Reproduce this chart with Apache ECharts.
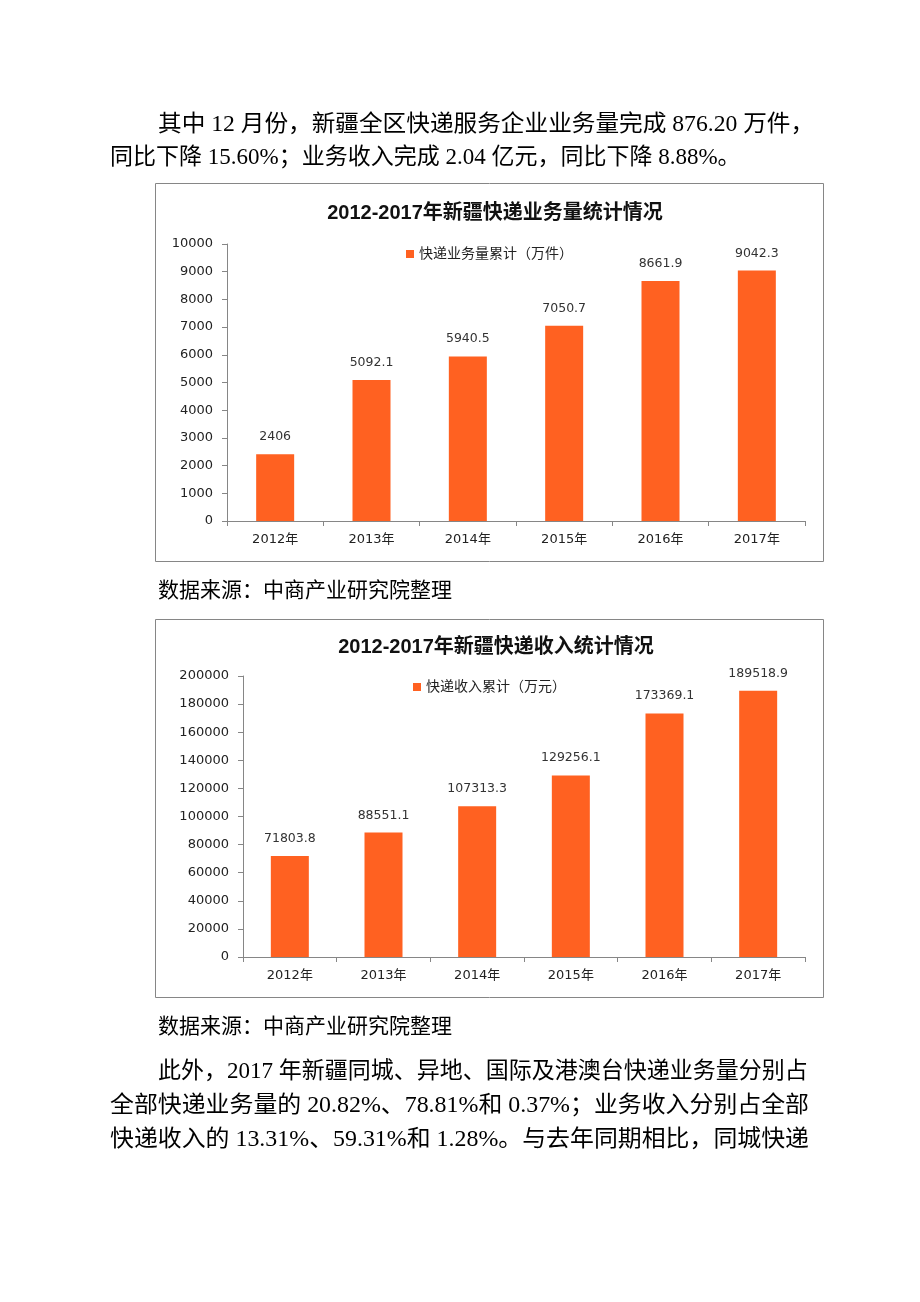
<!DOCTYPE html>
<html><head><meta charset="utf-8">
<script src="https://cdn.jsdelivr.net/npm/echarts@6/dist/echarts.min.js"></script>
<style>html,body{margin:0;padding:0;background:#fff}#c{width:920px;height:1302px}</style>
</head><body><div id="c"></div>
<script>
const years = ['2012年','2013年','2014年','2015年','2016年','2017年'];
const volume = [2406, 5092.1, 5940.5, 7050.7, 8661.9, 9042.3];
const revenue = [71803.8, 88551.1, 107313.3, 129256.1, 173369.1, 189518.9];
const title1 = '2012-2017年新疆快递业务量统计情况';
const title2 = '2012-2017年新疆快递收入统计情况';
const legend1 = '快递业务量累计（万件）';
const legend2 = '快递收入累计（万元）';
const para1 = ['其中 12 月份，新疆全区快递服务企业业务量完成 876.20 万件，','同比下降 15.60%；业务收入完成 2.04 亿元，同比下降 8.88%。'];
const source = '数据来源：中商产业研究院整理';
const para2 = ['此外，2017 年新疆同城、异地、国际及港澳台快递业务量分别占','全部快递业务量的 20.82%、78.81%和 0.37%；业务收入分别占全部','快递收入的 13.31%、59.31%和 1.28%。与去年同期相比，同城快递'];

const bodyFont = '"Liberation Serif","Noto Sans CJK SC",serif';
const chartFont = '"DejaVu Sans","Noto Sans CJK SC",sans-serif';
const titleFont = '"Liberation Sans","Noto Sans CJK SC",sans-serif';
const ORANGE = '#FF6121';
const AX = '#868686';

function txt(x,y,s,size,sx){
  return {type:'text',x:x,y:y,scaleX:sx||1,style:{text:s,font:'normal '+size+'px '+bodyFont,fill:'#000',textVerticalAlign:'middle',textAlign:'left'}};
}
const g = [];
g.push(txt(158,125,para1[0],23,1.028));
g.push(txt(110,158,para1[1],23));
g.push(txt(158,591,source,21));
g.push(txt(158,1027,source,21));
g.push(txt(158,1072,para2[0],23));
g.push(txt(110,1106,para2[1],23,1.039));
g.push(txt(110,1140,para2[2],23,1.039));
g.push({type:'rect',shape:{x:155.5,y:183.5,width:668,height:378},style:{fill:'none',stroke:AX,lineWidth:1},z:-1});
g.push({type:'rect',shape:{x:155.5,y:619.5,width:668,height:378},style:{fill:'none',stroke:AX,lineWidth:1},z:-1});

function yAxis(gi,max,interval){
  return {type:'value',gridIndex:gi,min:0,max:max,interval:interval,
    axisLine:{show:true,lineStyle:{color:AX}},axisTick:{show:true,length:5,lineStyle:{color:AX}},
    splitLine:{show:false},axisLabel:{color:'#222',fontSize:13,fontFamily:chartFont,margin:14,formatter:v=>String(v)}};
}
function xAxis(gi){
  return {type:'category',gridIndex:gi,data:years,
    axisLine:{show:true,lineStyle:{color:AX}},axisTick:{show:true,length:5,lineStyle:{color:AX}},
    axisLabel:{color:'#222',fontSize:13,fontFamily:chartFont,margin:12}};
}
const labelStyle = {show:true,position:'top',distance:11,color:'#333',fontSize:12.5,fontFamily:chartFont};

const option = {
  animation:false,
  backgroundColor:'#fff',
  textStyle:{fontFamily:chartFont},
  title:[
    {text:title1,left:490,top:198,textAlign:'center',textStyle:{fontSize:20,fontWeight:'bold',color:'#111',fontFamily:titleFont}},
    {text:title2,left:491,top:632,textAlign:'center',textStyle:{fontSize:20,fontWeight:'bold',color:'#111',fontFamily:titleFont}}
  ],
  legend:[
    {data:[legend1],left:401,top:242,icon:'rect',itemWidth:8,itemHeight:8,itemGap:4,textStyle:{fontSize:14,color:'#222',fontFamily:chartFont}},
    {data:[legend2],left:408,top:675,icon:'rect',itemWidth:8,itemHeight:8,itemGap:4,textStyle:{fontSize:14,color:'#222',fontFamily:chartFont}}
  ],
  grid:[
    {left:227,top:244,width:578,height:277},
    {left:243,top:676,width:562,height:281}
  ],
  xAxis:[xAxis(0),xAxis(1)],
  yAxis:[yAxis(0,10000,1000),yAxis(1,200000,20000)],
  series:[
    {name:legend1,type:'bar',xAxisIndex:0,yAxisIndex:0,data:volume,barWidth:38,itemStyle:{color:ORANGE},label:labelStyle},
    {name:legend2,type:'bar',xAxisIndex:1,yAxisIndex:1,data:revenue,barWidth:38,itemStyle:{color:ORANGE},label:labelStyle}
  ],
  graphic:g
};
echarts.init(document.getElementById('c'),null,{renderer:'canvas'}).setOption(option);
</script></body></html>
